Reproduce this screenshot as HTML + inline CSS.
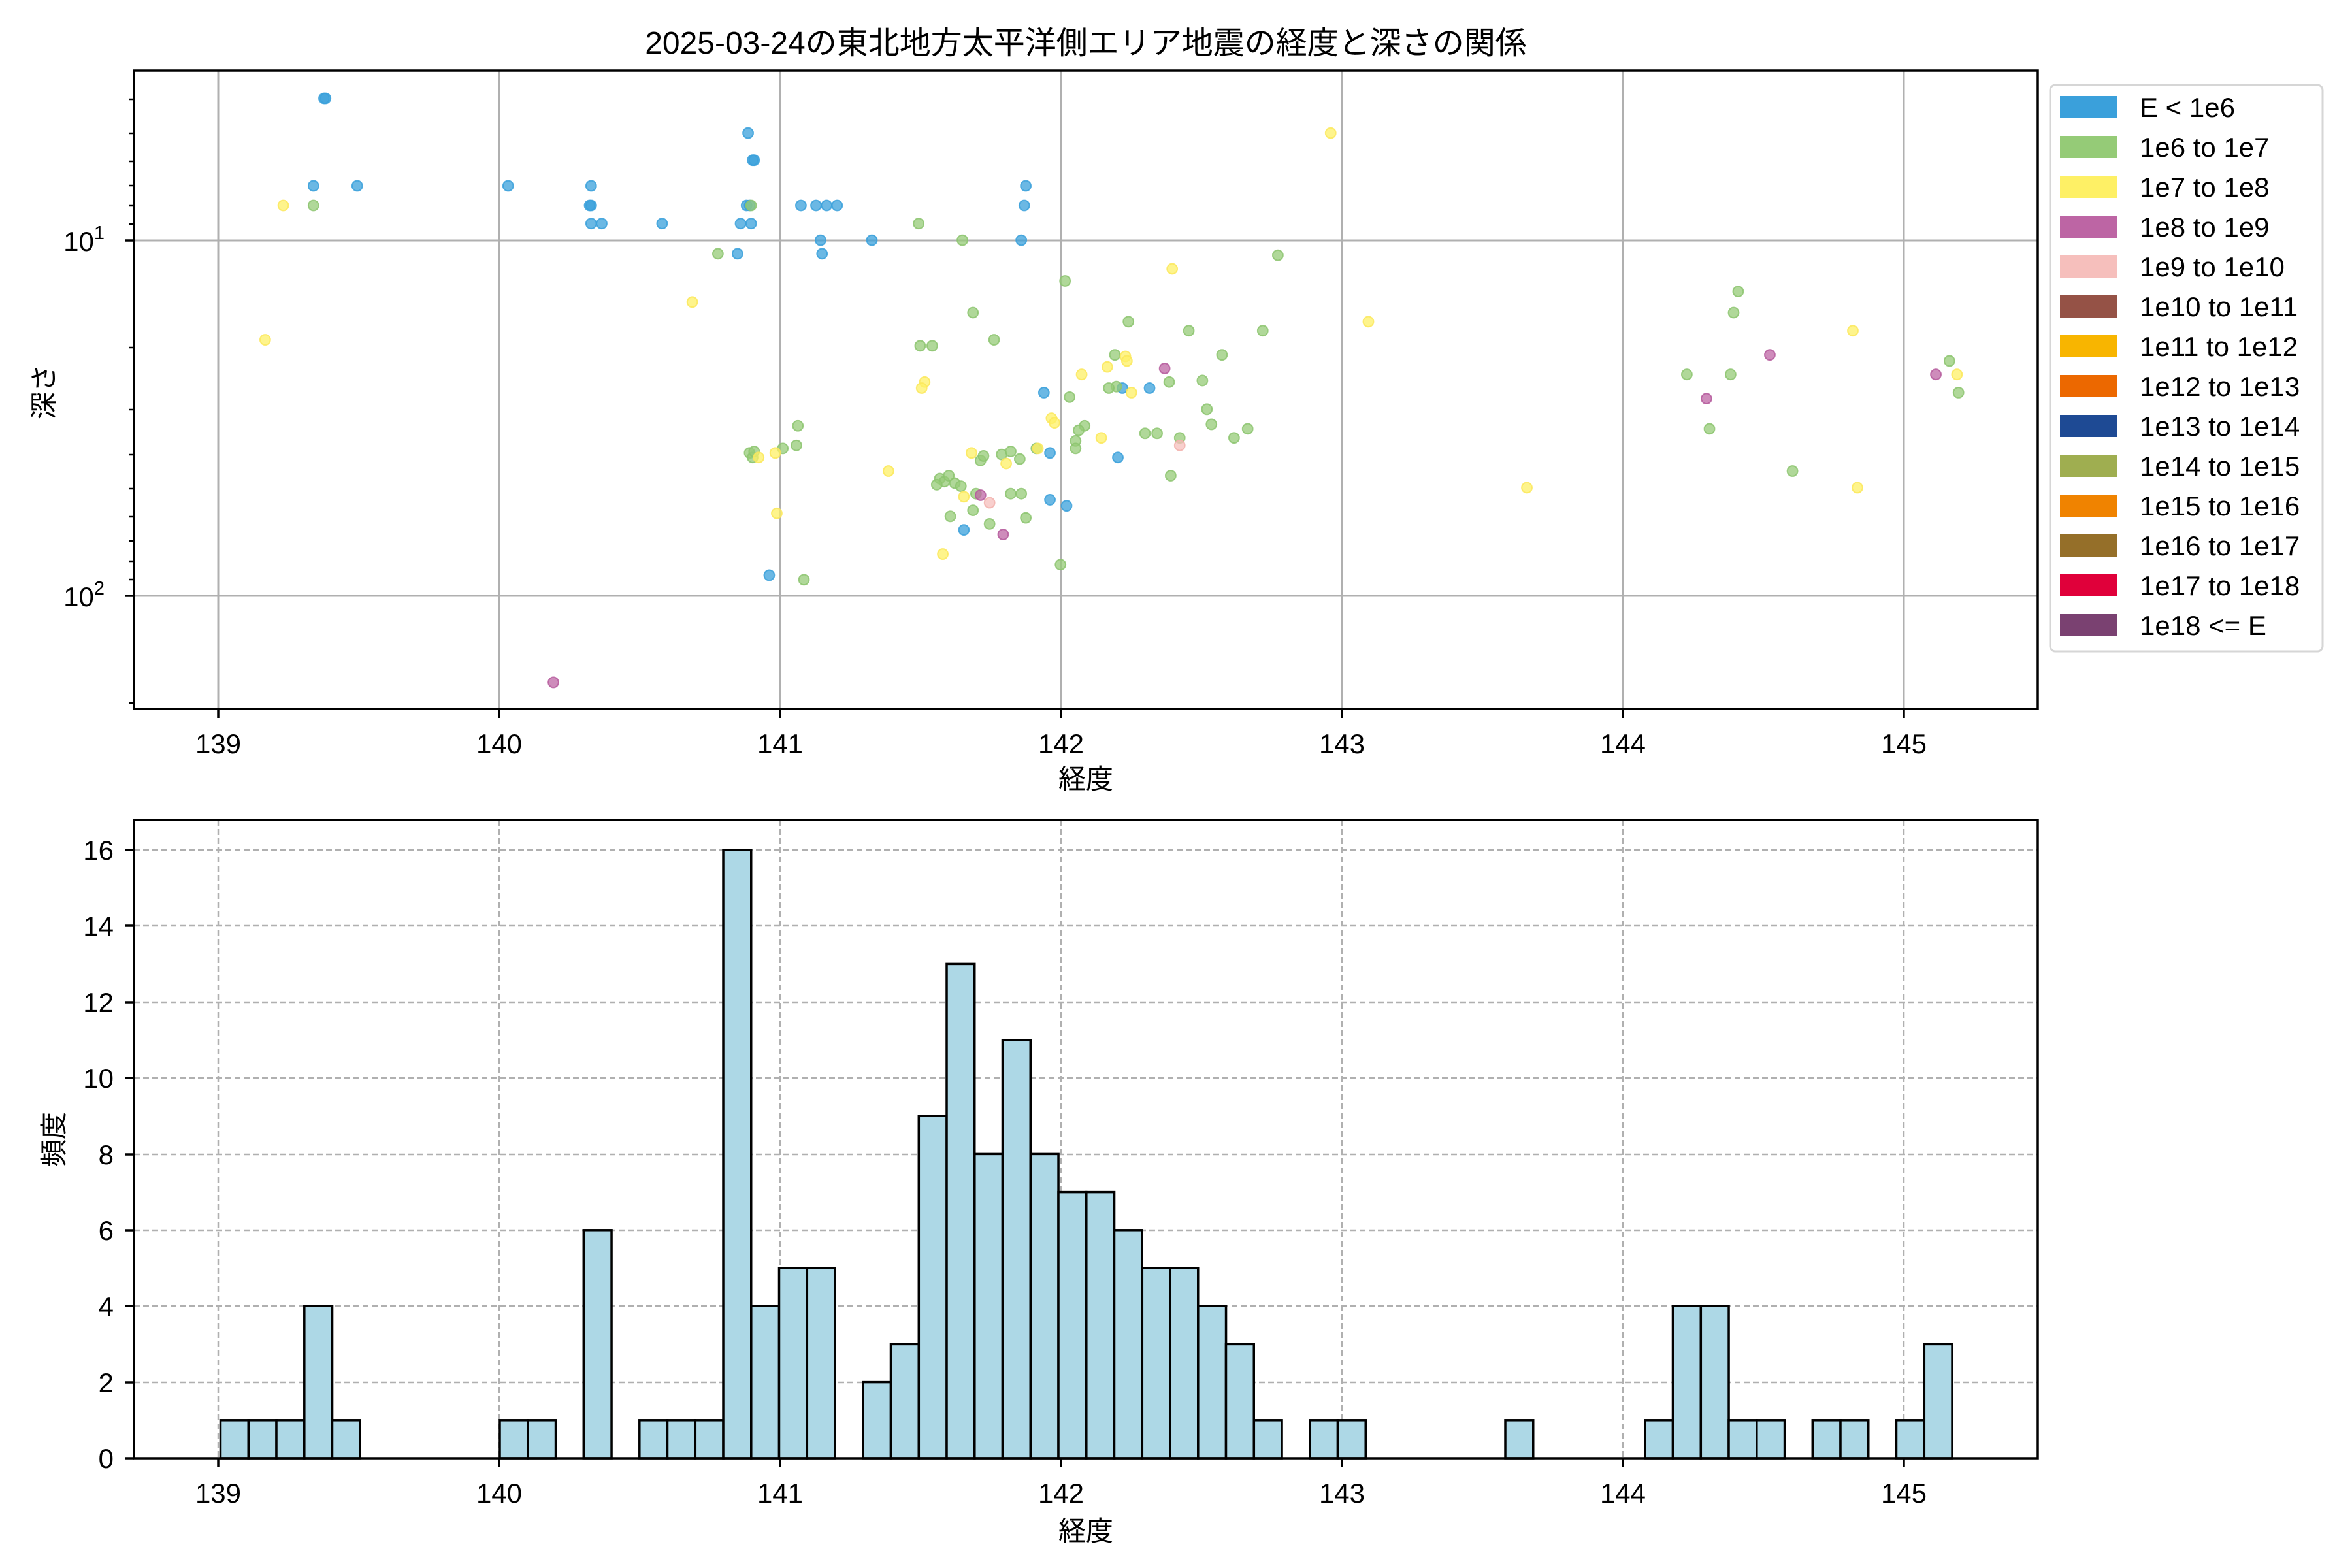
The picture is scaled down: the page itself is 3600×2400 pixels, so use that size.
<!DOCTYPE html>
<html><head><meta charset="utf-8">
<style>
html,body{margin:0;padding:0;background:#fff;}
svg{display:block;}
text{font-family:"Liberation Sans","Noto Sans CJK JP",sans-serif;fill:#000;}
</style></head>
<body>
<svg width="3600" height="2400" viewBox="0 0 3600 2400" xmlns="http://www.w3.org/2000/svg">
<rect width="3600" height="2400" fill="#fff"/>
<text x="1662" y="82" font-size="48" text-anchor="middle">2025-03-24の東北地方太平洋側エリア地震の経度と深さの関係</text>

<g stroke="#b0b0b0" stroke-width="3">
<line x1="334" y1="108" x2="334" y2="1085"/>
<line x1="764" y1="108" x2="764" y2="1085"/>
<line x1="1194" y1="108" x2="1194" y2="1085"/>
<line x1="1624" y1="108" x2="1624" y2="1085"/>
<line x1="2054" y1="108" x2="2054" y2="1085"/>
<line x1="2484" y1="108" x2="2484" y2="1085"/>
<line x1="2914" y1="108" x2="2914" y2="1085"/>
<line x1="205" y1="368" x2="3119" y2="368"/>
<line x1="205" y1="912" x2="3119" y2="912"/>
</g>

<g transform="translate(-3,-2) scale(2.31)" stroke-width="0.9" fill-opacity="0.75" stroke-opacity="0.85">
<g fill="#3aa0db" stroke="#3aa0db">
<circle cx="216" cy="66" r="3.4"/><circle cx="217" cy="66" r="3.4"/><circle cx="209" cy="124" r="3.4"/><circle cx="238" cy="124" r="3.4"/><circle cx="338" cy="124" r="3.4"/><circle cx="393" cy="124" r="3.4"/><circle cx="392" cy="137" r="3.4"/><circle cx="393" cy="137" r="3.4"/><circle cx="393" cy="149" r="3.4"/><circle cx="400" cy="149" r="3.4"/><circle cx="440" cy="149" r="3.4"/><circle cx="497" cy="89" r="3.4"/><circle cx="501" cy="107" r="3.4"/><circle cx="500" cy="107" r="3.4"/><circle cx="496" cy="137" r="3.4"/><circle cx="498" cy="137" r="3.4"/><circle cx="492" cy="149" r="3.4"/><circle cx="499" cy="149" r="3.4"/><circle cx="532" cy="137" r="3.4"/><circle cx="542" cy="137" r="3.4"/><circle cx="549" cy="137" r="3.4"/><circle cx="556" cy="137" r="3.4"/><circle cx="545" cy="160" r="3.4"/><circle cx="546" cy="169" r="3.4"/><circle cx="579" cy="160" r="3.4"/><circle cx="490" cy="169" r="3.4"/><circle cx="681" cy="124" r="3.4"/><circle cx="680" cy="137" r="3.4"/><circle cx="678" cy="160" r="3.4"/><circle cx="693" cy="261" r="3.4"/><circle cx="697" cy="301" r="3.4"/><circle cx="708" cy="336" r="3.4"/><circle cx="697" cy="332" r="3.4"/><circle cx="640" cy="352" r="3.4"/><circle cx="742" cy="304" r="3.4"/><circle cx="745" cy="258" r="3.4"/><circle cx="763" cy="258" r="3.4"/><circle cx="511" cy="382" r="3.4"/>
</g>
<g fill="#95cb77" stroke="#8cc46e">
<circle cx="209" cy="137" r="3.4"/><circle cx="499" cy="137" r="3.4"/><circle cx="610" cy="149" r="3.4"/><circle cx="639" cy="160" r="3.4"/><circle cx="477" cy="169" r="3.4"/><circle cx="848" cy="170" r="3.4"/><circle cx="707" cy="187" r="3.4"/><circle cx="646" cy="208" r="3.4"/><circle cx="749" cy="214" r="3.4"/><circle cx="789" cy="220" r="3.4"/><circle cx="660" cy="226" r="3.4"/><circle cx="619" cy="230" r="3.4"/><circle cx="811" cy="236" r="3.4"/><circle cx="838" cy="220" r="3.4"/><circle cx="740" cy="236" r="3.4"/><circle cx="776" cy="254" r="3.4"/><circle cx="798" cy="253" r="3.4"/><circle cx="741" cy="257" r="3.4"/><circle cx="736" cy="258" r="3.4"/><circle cx="710" cy="264" r="3.4"/><circle cx="801" cy="272" r="3.4"/><circle cx="804" cy="282" r="3.4"/><circle cx="720" cy="283" r="3.4"/><circle cx="716" cy="286" r="3.4"/><circle cx="714" cy="293" r="3.4"/><circle cx="760" cy="288" r="3.4"/><circle cx="768" cy="288" r="3.4"/><circle cx="783" cy="291" r="3.4"/><circle cx="828" cy="285" r="3.4"/><circle cx="819" cy="291" r="3.4"/><circle cx="688" cy="298" r="3.4"/><circle cx="714" cy="298" r="3.4"/><circle cx="530" cy="283" r="3.4"/><circle cx="529" cy="296" r="3.4"/><circle cx="520" cy="298" r="3.4"/><circle cx="498" cy="301" r="3.4"/><circle cx="500" cy="304" r="3.4"/><circle cx="501" cy="300" r="3.4"/><circle cx="665" cy="302" r="3.4"/><circle cx="651" cy="306" r="3.4"/><circle cx="653" cy="303" r="3.4"/><circle cx="671" cy="300" r="3.4"/><circle cx="677" cy="305" r="3.4"/><circle cx="624" cy="318" r="3.4"/><circle cx="627" cy="320" r="3.4"/><circle cx="630" cy="316" r="3.4"/><circle cx="634" cy="321" r="3.4"/><circle cx="622" cy="322" r="3.4"/><circle cx="638" cy="323" r="3.4"/><circle cx="648" cy="328" r="3.4"/><circle cx="671" cy="328" r="3.4"/><circle cx="678" cy="328" r="3.4"/><circle cx="631" cy="343" r="3.4"/><circle cx="646" cy="339" r="3.4"/><circle cx="657" cy="348" r="3.4"/><circle cx="681" cy="344" r="3.4"/><circle cx="704" cy="375" r="3.4"/><circle cx="534" cy="385" r="3.4"/><circle cx="777" cy="316" r="3.4"/><circle cx="1119" cy="249" r="3.4"/><circle cx="1148" cy="249" r="3.4"/><circle cx="1153" cy="194" r="3.4"/><circle cx="1150" cy="208" r="3.4"/><circle cx="1134" cy="285" r="3.4"/><circle cx="1189" cy="313" r="3.4"/><circle cx="1293" cy="240" r="3.4"/><circle cx="1299" cy="261" r="3.4"/><circle cx="611" cy="230" r="3.4"/>
</g>
<g fill="#fef065" stroke="#fbe85a">
<circle cx="883" cy="89" r="3.4"/><circle cx="189" cy="137" r="3.4"/><circle cx="177" cy="226" r="3.4"/><circle cx="460" cy="201" r="3.4"/><circle cx="778" cy="179" r="3.4"/><circle cx="908" cy="214" r="3.4"/><circle cx="1229" cy="220" r="3.4"/><circle cx="718" cy="249" r="3.4"/><circle cx="735" cy="244" r="3.4"/><circle cx="747" cy="237" r="3.4"/><circle cx="748" cy="240" r="3.4"/><circle cx="751" cy="261" r="3.4"/><circle cx="614" cy="254" r="3.4"/><circle cx="612" cy="258" r="3.4"/><circle cx="698" cy="278" r="3.4"/><circle cx="700" cy="281" r="3.4"/><circle cx="731" cy="291" r="3.4"/><circle cx="689" cy="298" r="3.4"/><circle cx="645" cy="301" r="3.4"/><circle cx="515" cy="301" r="3.4"/><circle cx="504" cy="304" r="3.4"/><circle cx="590" cy="313" r="3.4"/><circle cx="668" cy="308" r="3.4"/><circle cx="640" cy="330" r="3.4"/><circle cx="516" cy="341" r="3.4"/><circle cx="626" cy="368" r="3.4"/><circle cx="1013" cy="324" r="3.4"/><circle cx="1232" cy="324" r="3.4"/><circle cx="1298" cy="249" r="3.4"/>
</g>
<g fill="#bd65a4" stroke="#b55a9c">
<circle cx="773" cy="245" r="3.4"/><circle cx="1174" cy="236" r="3.4"/><circle cx="1284" cy="249" r="3.4"/><circle cx="651" cy="329" r="3.4"/><circle cx="666" cy="355" r="3.4"/><circle cx="368" cy="453" r="3.4"/><circle cx="1132" cy="265" r="3.4"/>
</g>
<g fill="#f6bfbc" stroke="#f2b0ac">
<circle cx="783" cy="296" r="3.4"/><circle cx="657" cy="334" r="3.4"/>
</g>
</g>

<rect x="205" y="108" width="2914" height="977" fill="none" stroke="#000" stroke-width="3.5"/>
<g stroke="#000" stroke-width="3.5">
<line x1="334" y1="1085" x2="334" y2="1099"/><line x1="764" y1="1085" x2="764" y2="1099"/><line x1="1194" y1="1085" x2="1194" y2="1099"/><line x1="1624" y1="1085" x2="1624" y2="1099"/><line x1="2054" y1="1085" x2="2054" y2="1099"/><line x1="2484" y1="1085" x2="2484" y2="1099"/><line x1="2914" y1="1085" x2="2914" y2="1099"/>
<line x1="191" y1="368" x2="205" y2="368"/><line x1="191" y1="912" x2="205" y2="912"/>
</g>
<g stroke="#000" stroke-width="2.5">
<line x1="197" y1="152" x2="205" y2="152"/><line x1="197" y1="204" x2="205" y2="204"/><line x1="197" y1="247" x2="205" y2="247"/><line x1="197" y1="284" x2="205" y2="284"/><line x1="197" y1="315" x2="205" y2="315"/><line x1="197" y1="343" x2="205" y2="343"/>
<line x1="197" y1="532" x2="205" y2="532"/><line x1="197" y1="627" x2="205" y2="627"/><line x1="197" y1="696" x2="205" y2="696"/><line x1="197" y1="748" x2="205" y2="748"/><line x1="197" y1="791" x2="205" y2="791"/><line x1="197" y1="828" x2="205" y2="828"/><line x1="197" y1="859" x2="205" y2="859"/><line x1="197" y1="887" x2="205" y2="887"/>
<line x1="197" y1="1076" x2="205" y2="1076"/>
</g>
<g font-size="42" text-anchor="middle">
<text x="334" y="1153">139</text><text x="764" y="1153">140</text><text x="1194" y="1153">141</text><text x="1624" y="1153">142</text><text x="2054" y="1153">143</text><text x="2484" y="1153">144</text><text x="2914" y="1153">145</text>
</g>
<text x="160" y="384" font-size="42" text-anchor="end">10<tspan font-size="29" dy="-18">1</tspan></text>
<text x="160" y="928" font-size="42" text-anchor="end">10<tspan font-size="29" dy="-18">2</tspan></text>
<text x="1662" y="1207" font-size="42" text-anchor="middle">経度</text>
<text transform="translate(82,600) rotate(-90)" font-size="42" text-anchor="middle">深さ</text>

<rect x="3138" y="130" width="417" height="867" rx="8" fill="#fff" stroke="#d6d6d6" stroke-width="3"/>
<g>
<rect x="3153" y="147" width="87" height="34" fill="#3aa0db"/>
<rect x="3153" y="208" width="87" height="34" fill="#95cb77"/>
<rect x="3153" y="269" width="87" height="34" fill="#fef065"/>
<rect x="3153" y="330" width="87" height="34" fill="#bd65a4"/>
<rect x="3153" y="391" width="87" height="34" fill="#f6bfbc"/>
<rect x="3153" y="452" width="87" height="34" fill="#955246"/>
<rect x="3153" y="513" width="87" height="34" fill="#f8b500"/>
<rect x="3153" y="574" width="87" height="34" fill="#ec6800"/>
<rect x="3153" y="635" width="87" height="34" fill="#1e4a94"/>
<rect x="3153" y="696" width="87" height="34" fill="#9fae50"/>
<rect x="3153" y="757" width="87" height="34" fill="#f08300"/>
<rect x="3153" y="818" width="87" height="34" fill="#956f29"/>
<rect x="3153" y="879" width="87" height="34" fill="#e0003a"/>
<rect x="3153" y="940" width="87" height="34" fill="#7a4171"/>
</g>
<g font-size="42">
<text x="3275" y="179">E &lt; 1e6</text>
<text x="3275" y="240">1e6 to 1e7</text>
<text x="3275" y="301">1e7 to 1e8</text>
<text x="3275" y="362">1e8 to 1e9</text>
<text x="3275" y="423">1e9 to 1e10</text>
<text x="3275" y="484">1e10 to 1e11</text>
<text x="3275" y="545">1e11 to 1e12</text>
<text x="3275" y="606">1e12 to 1e13</text>
<text x="3275" y="667">1e13 to 1e14</text>
<text x="3275" y="728">1e14 to 1e15</text>
<text x="3275" y="789">1e15 to 1e16</text>
<text x="3275" y="850">1e16 to 1e17</text>
<text x="3275" y="911">1e17 to 1e18</text>
<text x="3275" y="972">1e18 &lt;= E</text>
</g>

<g stroke="#b0b0b0" stroke-width="2.5" stroke-dasharray="9,5">
<line x1="334" y1="1255" x2="334" y2="2232"/><line x1="764" y1="1255" x2="764" y2="2232"/><line x1="1194" y1="1255" x2="1194" y2="2232"/><line x1="1624" y1="1255" x2="1624" y2="2232"/><line x1="2054" y1="1255" x2="2054" y2="2232"/><line x1="2484" y1="1255" x2="2484" y2="2232"/><line x1="2914" y1="1255" x2="2914" y2="2232"/>
<line x1="205" y1="2116" x2="3119" y2="2116"/><line x1="205" y1="1999" x2="3119" y2="1999"/><line x1="205" y1="1883" x2="3119" y2="1883"/><line x1="205" y1="1767" x2="3119" y2="1767"/><line x1="205" y1="1650" x2="3119" y2="1650"/><line x1="205" y1="1534" x2="3119" y2="1534"/><line x1="205" y1="1417" x2="3119" y2="1417"/><line x1="205" y1="1301" x2="3119" y2="1301"/>
</g>
<g fill="#add8e6" stroke="#000" stroke-width="3.5">
<rect x="337.5" y="2173.8" width="42.75" height="58.2"/>
<rect x="380.3" y="2173.8" width="42.75" height="58.2"/>
<rect x="423.0" y="2173.8" width="42.75" height="58.2"/>
<rect x="465.8" y="1999.2" width="42.75" height="232.8"/>
<rect x="508.5" y="2173.8" width="42.75" height="58.2"/>
<rect x="765.0" y="2173.8" width="42.75" height="58.2"/>
<rect x="807.8" y="2173.8" width="42.75" height="58.2"/>
<rect x="893.3" y="1882.8" width="42.75" height="349.2"/>
<rect x="978.8" y="2173.8" width="42.75" height="58.2"/>
<rect x="1021.5" y="2173.8" width="42.75" height="58.2"/>
<rect x="1064.3" y="2173.8" width="42.75" height="58.2"/>
<rect x="1107.0" y="1300.8" width="42.75" height="931.2"/>
<rect x="1149.8" y="1999.2" width="42.75" height="232.8"/>
<rect x="1192.5" y="1941.0" width="42.75" height="291.0"/>
<rect x="1235.3" y="1941.0" width="42.75" height="291.0"/>
<rect x="1320.8" y="2115.6" width="42.75" height="116.4"/>
<rect x="1363.5" y="2057.4" width="42.75" height="174.6"/>
<rect x="1406.3" y="1708.2" width="42.75" height="523.8"/>
<rect x="1449.0" y="1475.4" width="42.75" height="756.6"/>
<rect x="1491.8" y="1766.4" width="42.75" height="465.6"/>
<rect x="1534.5" y="1591.8" width="42.75" height="640.2"/>
<rect x="1577.3" y="1766.4" width="42.75" height="465.6"/>
<rect x="1620.0" y="1824.6" width="42.75" height="407.4"/>
<rect x="1662.8" y="1824.6" width="42.75" height="407.4"/>
<rect x="1705.5" y="1882.8" width="42.75" height="349.2"/>
<rect x="1748.3" y="1941.0" width="42.75" height="291.0"/>
<rect x="1791.0" y="1941.0" width="42.75" height="291.0"/>
<rect x="1833.8" y="1999.2" width="42.75" height="232.8"/>
<rect x="1876.5" y="2057.4" width="42.75" height="174.6"/>
<rect x="1919.3" y="2173.8" width="42.75" height="58.2"/>
<rect x="2004.8" y="2173.8" width="42.75" height="58.2"/>
<rect x="2047.5" y="2173.8" width="42.75" height="58.2"/>
<rect x="2304.0" y="2173.8" width="42.75" height="58.2"/>
<rect x="2517.8" y="2173.8" width="42.75" height="58.2"/>
<rect x="2560.5" y="1999.2" width="42.75" height="232.8"/>
<rect x="2603.3" y="1999.2" width="42.75" height="232.8"/>
<rect x="2646.0" y="2173.8" width="42.75" height="58.2"/>
<rect x="2688.8" y="2173.8" width="42.75" height="58.2"/>
<rect x="2774.3" y="2173.8" width="42.75" height="58.2"/>
<rect x="2817.0" y="2173.8" width="42.75" height="58.2"/>
<rect x="2902.5" y="2173.8" width="42.75" height="58.2"/>
<rect x="2945.3" y="2057.4" width="42.75" height="174.6"/>
</g>
<rect x="205" y="1255" width="2914" height="977" fill="none" stroke="#000" stroke-width="3.5"/>
<g stroke="#000" stroke-width="3.5">
<line x1="334" y1="2232" x2="334" y2="2246"/><line x1="764" y1="2232" x2="764" y2="2246"/><line x1="1194" y1="2232" x2="1194" y2="2246"/><line x1="1624" y1="2232" x2="1624" y2="2246"/><line x1="2054" y1="2232" x2="2054" y2="2246"/><line x1="2484" y1="2232" x2="2484" y2="2246"/><line x1="2914" y1="2232" x2="2914" y2="2246"/>
<line x1="191" y1="2232" x2="205" y2="2232"/><line x1="191" y1="2116" x2="205" y2="2116"/><line x1="191" y1="1999" x2="205" y2="1999"/><line x1="191" y1="1883" x2="205" y2="1883"/><line x1="191" y1="1767" x2="205" y2="1767"/><line x1="191" y1="1650" x2="205" y2="1650"/><line x1="191" y1="1534" x2="205" y2="1534"/><line x1="191" y1="1417" x2="205" y2="1417"/><line x1="191" y1="1301" x2="205" y2="1301"/>
</g>
<g font-size="42" text-anchor="middle">
<text x="334" y="2300">139</text><text x="764" y="2300">140</text><text x="1194" y="2300">141</text><text x="1624" y="2300">142</text><text x="2054" y="2300">143</text><text x="2484" y="2300">144</text><text x="2914" y="2300">145</text>
</g>
<g font-size="42" text-anchor="end">
<text x="174" y="2247">0</text><text x="174" y="2131">2</text><text x="174" y="2014">4</text><text x="174" y="1898">6</text><text x="174" y="1782">8</text><text x="174" y="1665">10</text><text x="174" y="1549">12</text><text x="174" y="1432">14</text><text x="174" y="1316">16</text>
</g>
<text x="1662" y="2358" font-size="42" text-anchor="middle">経度</text>
<text transform="translate(97,1744) rotate(-90)" font-size="42" text-anchor="middle">頻度</text>
</svg>
</body></html>
